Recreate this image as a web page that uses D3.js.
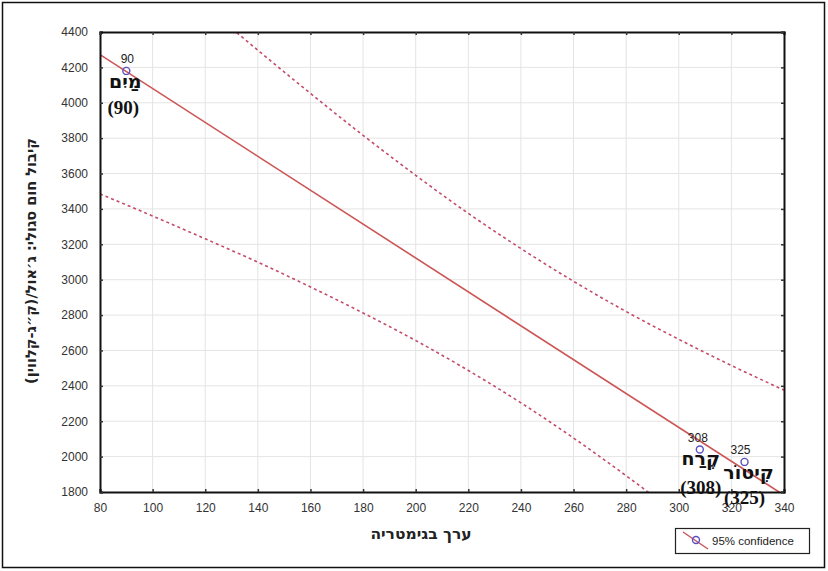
<!DOCTYPE html>
<html><head><meta charset="utf-8">
<script src="https://cdn.jsdelivr.net/npm/d3@7"></script>
<style>
body{margin:0;background:#fff;}
svg{display:block;}
</style></head>
<body>
<svg id="chart" width="828" height="571"></svg>
<script>
// ---- data ----
const pointX = [90, 308, 325];
const pointY = [4180, 2040, 1970];
const pointNumLabels = ["90", "308", "325"];
const pointNames = ["מַיִם", "קֶרַח", "קִיטוֹר"];
const pointValueLabels = ["(90)", "(308)", "(325)"];
const fitX = [80, 340];
const fitY = [4272, 1782];
const bandX = [80, 100, 120, 140, 160, 180, 200, 220, 240, 260, 280, 300, 320, 340];
const bandUpper = [5059, 4802, 4547, 4297, 4053, 3816, 3590, 3375, 3176, 2991, 2820, 2663, 2515, 2376];
const bandLower = [3485, 3360, 3231, 3099, 2959, 2812, 2656, 2487, 2304, 2105, 1892, 1667, 1431, 1188];
const xTicks = [80,100,120,140,160,180,200,220,240,260,280,300,320,340];
const yTicks = [1800,2000,2200,2400,2600,2800,3000,3200,3400,3600,3800,4000,4200,4400];
const xTitle = "ערך בגימטריה";
const yTitle = "קיבול חום סגולי: ג׳אול/(ק״ג-קלווין)";
const legendLabel = "95% confidence";

// ---- layout ----
const svg = d3.select("#chart");
const L = 100, R = 784, T = 32, B = 492;
const x = d3.scaleLinear().domain([80, 340]).range([L, R]);
const y = d3.scaleLinear().domain([1800, 4400]).range([B, T]);
const lineCol = "#cc5555", bandCol = "#c44c68", ptCol = "#5a4fc0";

// outer frame
svg.append("rect").attr("x", 2.5).attr("y", 2.5).attr("width", 822).attr("height", 565)
  .attr("fill", "none").attr("stroke", "#111").attr("stroke-width", 1.5);

// grid
const grid = svg.append("g");
grid.selectAll(".gx").data(xTicks.slice(1, -1)).join("line")
  .attr("x1", d => x(d)).attr("x2", d => x(d)).attr("y1", T).attr("y2", B)
  .attr("stroke", "#e4e4e4").attr("stroke-width", 1);
grid.selectAll(".gy").data(yTicks.slice(1, -1)).join("line")
  .attr("y1", d => y(d)).attr("y2", d => y(d)).attr("x1", L).attr("x2", R)
  .attr("stroke", "#e4e4e4").attr("stroke-width", 1);

// clip
svg.append("clipPath").attr("id", "clip").append("rect")
  .attr("x", L).attr("y", T).attr("width", R - L).attr("height", B - T);
const plot = svg.append("g").attr("clip-path", "url(#clip)");

const bandLine = d3.line().x((d, i) => x(bandX[i])).y(d => y(d)).curve(d3.curveMonotoneX);
plot.append("path").attr("d", bandLine(bandUpper)).attr("fill", "none")
  .attr("stroke", bandCol).attr("stroke-width", 1.6).attr("stroke-dasharray", "3,3");
plot.append("path").attr("d", bandLine(bandLower)).attr("fill", "none")
  .attr("stroke", bandCol).attr("stroke-width", 1.6).attr("stroke-dasharray", "3,3");
plot.append("path").attr("d", d3.line().x((d, i) => x(fitX[i])).y(d => y(d))(fitY))
  .attr("fill", "none").attr("stroke", lineCol).attr("stroke-width", 1.6);

// axes
const fmt = d3.format("d");
const axB = svg.append("g").attr("transform", `translate(0,${B})`)
  .call(d3.axisBottom(x).tickValues(xTicks).tickFormat(fmt).tickSize(-3).tickPadding(11));
const axL = svg.append("g").attr("transform", `translate(${L},0)`)
  .call(d3.axisLeft(y).tickValues(yTicks).tickFormat(fmt).tickSize(-3).tickPadding(12));
const axT = svg.append("g").attr("transform", `translate(0,${T})`)
  .call(d3.axisTop(x).tickValues(xTicks).tickFormat("").tickSize(-3));
const axR = svg.append("g").attr("transform", `translate(${R},0)`)
  .call(d3.axisRight(y).tickValues(yTicks).tickFormat("").tickSize(-3));
[axB, axL, axT, axR].forEach(a => {
  a.select(".domain").attr("stroke", "#111").attr("stroke-width", 2);
  a.selectAll(".tick line").attr("stroke", "#333").attr("stroke-width", 1.5);
  a.selectAll(".tick text").attr("fill", "#333").style("font-family", "Liberation Sans, Arial, sans-serif").style("font-size", "12px");
});

// points
plot.selectAll(".pt").data(pointX).join("circle")
  .attr("cx", d => x(d)).attr("cy", (d, i) => y(pointY[i])).attr("r", 3.5)
  .attr("fill", "none").attr("stroke", ptCol).attr("stroke-width", 1.4);

// point number labels
svg.selectAll(".pn").data(pointX).join("text")
  .attr("x", (d, i) => x(d) + [1, -2, -4][i]).attr("y", (d, i) => y(pointY[i]) - 8)
  .attr("text-anchor", "middle").attr("fill", "#222")
  .style("font-family", "Liberation Sans, Arial, sans-serif").style("font-size", "12px")
  .text((d, i) => pointNumLabels[i]);

// hebrew names
const nameOff = [[-1, 17], [1, 15], [4, 17]];
svg.selectAll(".nm").data(pointX).join("text")
  .attr("x", (d, i) => x(d) + nameOff[i][0]).attr("y", (d, i) => y(pointY[i]) + nameOff[i][1])
  .attr("text-anchor", "middle").attr("fill", "#111")
  .style("font-family", "DejaVu Sans, sans-serif").style("font-weight", "bold").style("font-size", "19px")
  .text((d, i) => pointNames[i]);
const valOff = [[-3, 43], [1, 44], [0, 42]];
svg.selectAll(".vl").data(pointX).join("text")
  .attr("x", (d, i) => x(d) + valOff[i][0]).attr("y", (d, i) => y(pointY[i]) + valOff[i][1])
  .attr("text-anchor", "middle").attr("fill", "#111")
  .style("font-family", "Liberation Serif, Times New Roman, serif").style("font-weight", "bold").style("font-size", "19px")
  .text((d, i) => pointValueLabels[i]);

// axis titles
svg.append("text").attr("x", 421).attr("y", 539).attr("text-anchor", "middle")
  .style("font-family", "DejaVu Sans, sans-serif").style("font-weight", "bold").style("font-size", "15.5px")
  .attr("fill", "#222").text(xTitle);
svg.append("text").attr("transform", "translate(36,261) rotate(-90)").attr("text-anchor", "middle")
  .style("font-family", "DejaVu Sans, sans-serif").style("font-weight", "bold").style("font-size", "14.5px")
  .attr("fill", "#222").text(yTitle);

// legend
const lg = svg.append("g");
lg.append("rect").attr("x", 675.5).attr("y", 528.5).attr("width", 134).attr("height", 25)
  .attr("fill", "#fff").attr("stroke", "#222").attr("stroke-width", 1.2);
lg.append("line").attr("x1", 683).attr("y1", 532).attr("x2", 708).attr("y2", 549)
  .attr("stroke", lineCol).attr("stroke-width", 1.5);
lg.append("circle").attr("cx", 696).attr("cy", 540).attr("r", 3.5)
  .attr("fill", "none").attr("stroke", ptCol).attr("stroke-width", 1.4);
lg.append("text").attr("x", 712).attr("y", 545).attr("fill", "#222")
  .style("font-family", "Liberation Sans, Arial, sans-serif").style("font-size", "11.5px").text(legendLabel);
</script>
</body></html>
